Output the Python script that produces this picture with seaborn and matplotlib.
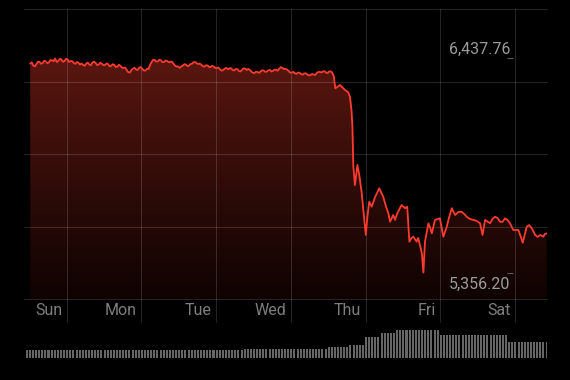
import numpy as np
import pandas as pd
import matplotlib
matplotlib.use("Agg")
import matplotlib.pyplot as plt
import seaborn as sns
from matplotlib.colors import LinearSegmentedColormap
from matplotlib.patches import PathPatch

# ---------------- data ----------------
days = ["Sun", "Mon", "Tue", "Wed", "Thu", "Fri", "Sat"]
day_marks = [13.7, 37.7, 61.7, 85.7, 109.7, 133.7, 157.7]   # hours of the day gridlines

hours = [2 + 0.5 * i for i in range(195)] + [
    99.5, 100, 101.5, 103.1, 104.1, 104.7, 105.2, 105.5, 105.8, 106.3,
    107.1, 107.7, 108.5, 109, 109.8, 110.3, 110.9, 111.7, 112.8, 113.4,
    114.1, 115.4, 116.3, 117, 117.6, 118.6, 119.2, 119.9, 120.6, 121.3,
    122.4, 123.1, 123.8, 124.5, 125.1, 126.1, 126.6, 127.2, 127.8, 128.3,
    128.8, 129.9, 130.5, 131, 132, 133.6, 134.7, 135.8, 136.5, 137.4,
    138.5, 139.5, 140.6, 141.4, 142.2, 143.2, 144.3, 145.4, 146.5, 147.3,
    148.1, 149.7, 150.5, 151.3, 152.1, 152.9, 153.7, 154.5, 155.3, 156.1,
    157.2, 158.8, 159.5, 160.2, 161.5, 162.3, 163.1, 164.2, 165, 165.8,
    166.8, 167.3, 167.9]

prices = [
    6412, 6418, 6402, 6398, 6410, 6422, 6420, 6411, 6415, 6426,
    6423, 6414, 6418, 6430, 6428, 6424, 6437.76, 6420, 6425, 6436,
    6433, 6421, 6425, 6436, 6433, 6420, 6425, 6424, 6415, 6411,
    6420, 6416, 6407, 6413, 6405, 6401, 6412, 6417, 6407, 6404,
    6418, 6422, 6415, 6405, 6407, 6416, 6412, 6404, 6405, 6413,
    6410, 6398, 6400, 6409, 6405, 6394, 6397, 6406, 6400, 6391,
    6390, 6392, 6380, 6368, 6367, 6379, 6387, 6391, 6382, 6380,
    6392, 6394, 6385, 6377, 6377, 6386, 6385, 6405, 6420, 6431,
    6430, 6422, 6423, 6432, 6428, 6419, 6420, 6428, 6425, 6419,
    6420, 6422, 6412, 6402, 6397, 6398, 6390, 6397, 6402, 6409,
    6407, 6399, 6402, 6410, 6412, 6419, 6420, 6413, 6410, 6412,
    6405, 6398, 6397, 6404, 6402, 6394, 6395, 6401, 6397, 6389,
    6390, 6392, 6382, 6376, 6380, 6387, 6390, 6384, 6387, 6389,
    6380, 6377, 6385, 6384, 6375, 6372, 6380, 6388, 6387, 6380,
    6385, 6381, 6372, 6366, 6364, 6371, 6370, 6365, 6372, 6378,
    6377, 6370, 6372, 6378, 6380, 6372, 6375, 6382, 6380, 6376,
    6387, 6394, 6390, 6384, 6385, 6382, 6375, 6366, 6367, 6370,
    6364, 6360, 6367, 6366, 6359, 6356, 6362, 6363, 6357, 6352,
    6354, 6359, 6357, 6354, 6364, 6369, 6370, 6367, 6372, 6374,
    6367, 6364, 6372, 6373, 6367,
    6349, 6287, 6304, 6279, 6268, 6245, 6177, 6093, 5891, 5798,
    5900, 5849, 5756, 5672, 5546, 5638, 5714, 5689, 5739, 5758,
    5782, 5739, 5689, 5657, 5613, 5647, 5622, 5655, 5677, 5697,
    5681, 5689, 5512, 5531, 5537, 5512, 5531, 5495, 5453, 5356.20,
    5512, 5605, 5581, 5554, 5622, 5630, 5537, 5588, 5632, 5681,
    5647, 5662, 5663, 5652, 5638, 5627, 5622, 5617, 5605, 5546,
    5622, 5605, 5627, 5638, 5632, 5613, 5612, 5630, 5622, 5605,
    5571, 5571, 5541, 5507, 5588, 5596, 5580, 5546, 5536, 5546,
    5537, 5551, 5554]

volume = [
    8, 8, 8, 8, 8, 8, 8, 8, 8, 8, 8, 8, 8, 8, 8, 8, 8, 8, 8, 8, 8, 8, 8, 8,
    8, 8, 8, 8, 8, 8, 8, 8, 8, 8, 8, 8, 8, 8, 8, 8, 8, 8, 8, 8, 8, 8, 8, 8,
    8, 8, 8, 8, 8, 8, 8, 8, 8, 8, 8, 8, 8, 8, 8, 8, 8, 8, 8, 8, 8, 8, 9.7, 9.7,
    9.7, 9.7, 9.7, 9.7, 9.7, 9.7, 9.7, 9.7, 9.7, 9.7, 9.7, 9.7, 9.7, 9.7, 9.7, 9.7,
    9.7, 9.7, 9.7, 9.7, 9.7, 9.7, 9.7, 9.7,
    9.7, 11.3, 11.3, 11.3, 11.3, 11.3, 11.3, 11.3, 13, 13, 13, 13, 13,
    21.7, 21.7, 21.7, 21.7, 21.7, 25, 25, 25, 25, 25, 28,
    28, 28, 28, 28, 28, 28, 28, 28, 28, 28, 28, 28, 28,
    23, 23, 23, 23, 23, 23, 23, 23, 23, 23, 23,
    23, 23, 23, 23, 23, 23, 23, 23, 23, 23, 23,
    16, 16, 16, 16, 16, 16, 16, 16, 16, 16, 16, 16, 16]
vol_hours = [i + 0.87 for i in range(len(volume))]

max_label = "6,437.76"
min_label = "5,356.20"

# ---------------- style ----------------
sns.set_theme(style="dark", rc={"axes.facecolor": "black",
                                "figure.facecolor": "black",
                                "axes.grid": False})
plt.rcParams["font.family"] = ["Roboto", "DejaVu Sans"]

X0, X1 = 0, 168
Y0, Y1 = 5222.3, 6686.4
grid_levels = np.linspace(Y0, Y1, 5)

fig = plt.figure(figsize=(5.7, 3.8), dpi=100)
fig.patch.set_facecolor("black")
ax = fig.add_axes([24 / 570, 1 - 299 / 380, 523 / 570, (299 - 9.3) / 380])
ax2 = fig.add_axes([24 / 570, 1 - 358.3 / 380, 523 / 570, 28.3 / 380])

df = pd.DataFrame({"hour": hours, "price": prices})

# gradient fill under the line
poly = ax.fill_between(df["hour"], df["price"], Y0, color="none", lw=0)
patch = PathPatch(poly.get_paths()[0], transform=ax.transData,
                  fc="none", ec="none")
ax.add_patch(patch)
cmap = LinearSegmentedColormap.from_list(
    "fill", ["#0f0302", "#2a0a07", "#4a120d", "#6c1b13"])
grad = np.linspace(1, 0, 256).reshape(-1, 1)
im = ax.imshow(grad, extent=[X0, X1, Y0, Y1], aspect="auto", cmap=cmap,
               origin="upper", zorder=1, interpolation="bicubic")
im.set_clip_path(patch)

sns.lineplot(data=df, x="hour", y="price", ax=ax, color="#ff3b30",
             lw=1.3, estimator=None, sort=False, zorder=5)

# grid
for g in grid_levels:
    ax.axhline(g, color="white", alpha=0.14, lw=0.8, zorder=3, clip_on=False)
for d in day_marks:
    ax.axvline(d, ymin=-0.078, ymax=1, color="white", alpha=0.14, lw=0.8,
               zorder=3, clip_on=False)

# day labels
for name, d in zip(days, day_marks):
    ax.annotate(name, xy=(d, 0), xycoords=("data", "axes fraction"),
                xytext=(-3.3, -11.4), textcoords="offset points",
                ha="right", va="baseline", color="#7e7e7e", fontsize=11.5)

# max / min labels
pmax, pmin = max(prices), min(prices)
ax.annotate(max_label, xy=(day_marks[-1], pmax), xytext=(-3.1, 3.2),
            textcoords="offset points", ha="right", va="baseline",
            color="#9b9b9b", fontsize=11.5)
ax.annotate(min_label, xy=(day_marks[-1], pmin), xytext=(-3.1, -11.4),
            textcoords="offset points", ha="right", va="baseline",
            color="#9b9b9b", fontsize=11.5)
ax.hlines([pmax, pmin], day_marks[-1] - 2.7, day_marks[-1] - 0.5,
          color="#5c5c5c", lw=0.8, zorder=3)

ax.set_xlim(X0, X1)
ax.set_ylim(Y0, Y1)
ax.axis("off")

# volume bars
vdf = pd.DataFrame({"hour": vol_hours, "volume": volume})
sns.barplot(data=vdf, x="hour", y="volume", ax=ax2, native_scale=True,
            color="#666666", width=0.65, saturation=1, linewidth=0,
            edgecolor="none")
ax2.set_xlim(X0, X1)
ax2.set_ylim(0, 28.3)
ax2.axis("off")

fig.savefig("out.png", dpi=100, facecolor="black")
